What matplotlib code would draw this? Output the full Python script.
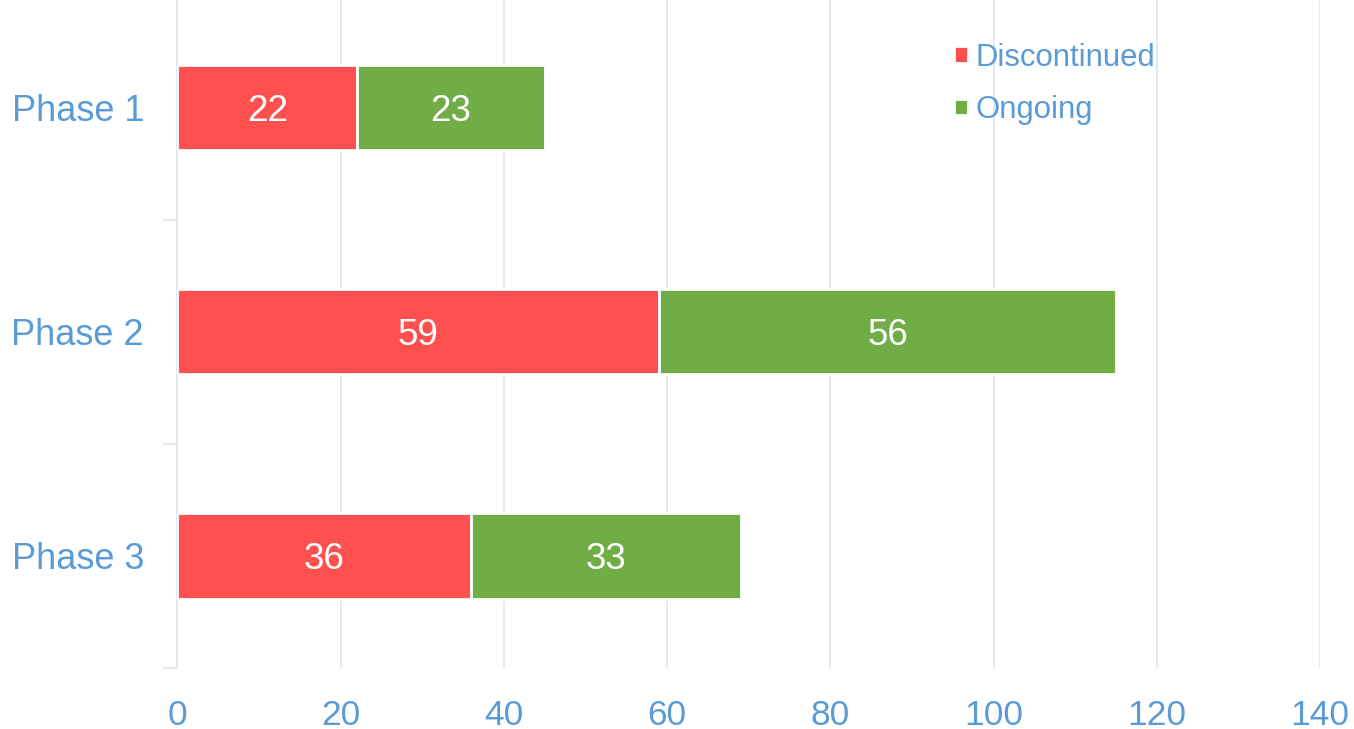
import matplotlib.pyplot as plt
import numpy as np
from matplotlib.ticker import FixedLocator

phases = ["Phase 1", "Phase 2", "Phase 3"]
discontinued = [22, 59, 36]
ongoing = [23, 56, 33]

red = "#FF5050"
green = "#70AD47"
blue = "#5B9BD5"
grid_color = "#DAE6F4"

plt.rcParams['font.family'] = ['Liberation Sans', 'DejaVu Sans']

fig = plt.figure(figsize=(13.54, 7.29), dpi=100)
ax = fig.add_axes([0.131, 0.0837, 0.844, 0.922])

y = np.arange(len(phases))
bar_h = 0.38
b1 = ax.barh(y, discontinued, height=bar_h, color=red, edgecolor="white", linewidth=2, label="Discontinued", zorder=3)
b2 = ax.barh(y, ongoing, left=discontinued, height=bar_h, color=green, edgecolor="white", linewidth=2, label="Ongoing", zorder=3)

for bars in (b1, b2):
    for t in ax.bar_label(bars, label_type="center", color="white", fontsize=26.5):
        t.set_verticalalignment("center_baseline")

ax.set_ylim(2.5, -0.5)
ax.set_xlim(0, 140)
ax.set_xticks(range(0, 141, 20))
ax.set_yticks(y)
ax.set_yticklabels(phases)
ax.yaxis.set_minor_locator(FixedLocator([0.5, 1.5, 2.5]))
ax.tick_params(axis="y", which="major", length=0, pad=24, labelsize=26, labelcolor=blue)
ax.tick_params(axis="y", which="minor", length=10, width=1.2, color=grid_color)
ax.tick_params(axis="x", length=0, pad=22, labelsize=25.5, labelcolor=blue)

for s in ["top", "right", "bottom"]:
    ax.spines[s].set_visible(False)
ax.spines["left"].set_color(grid_color)
ax.spines["left"].set_linewidth(1.2)
ax.grid(axis="x", color=grid_color, linewidth=1.2, zorder=0)
ax.set_axisbelow(True)

leg = ax.legend(loc="upper left", bbox_to_anchor=(0.655, 0.972), frameon=False,
                fontsize=22.4, handlelength=0.45, handleheight=0.45, handletextpad=0.25,
                labelspacing=0.72, labelcolor=blue)

fig.savefig("out.png", dpi=100)
